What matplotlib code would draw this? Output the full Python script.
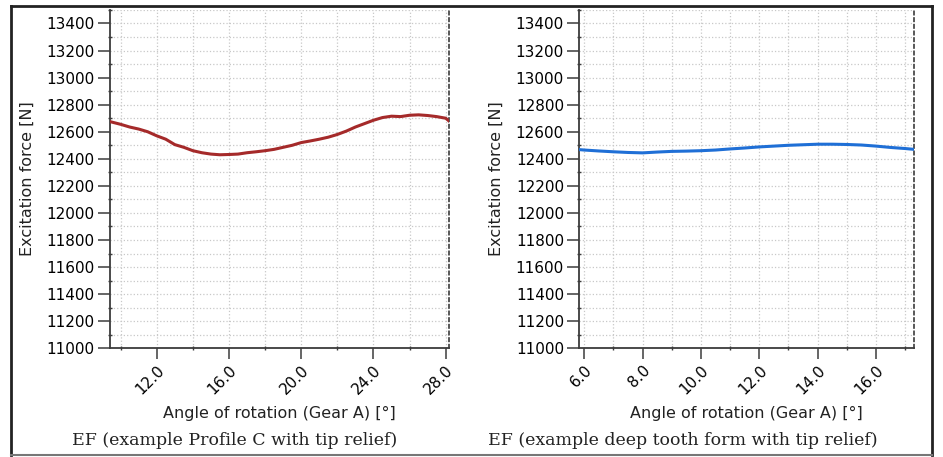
import numpy as np
import matplotlib
matplotlib.use('Agg')
import matplotlib.pyplot as plt
from matplotlib.ticker import MultipleLocator, FormatStrFormatter
from matplotlib.lines import Line2D

# left panel: profile C with tip relief
angle_a = [9.41, 10.0, 10.5, 11.0, 11.5, 12.0, 12.5, 13.0, 13.5, 14.0, 14.5, 15.0, 15.5,
           16.0, 16.5, 17.0, 17.5, 18.0, 18.5, 19.0, 19.5, 20.0, 20.5, 21.0, 21.5, 22.0,
           22.5, 23.0, 23.5, 24.0, 24.5, 25.0, 25.5, 26.0, 26.5, 27.0, 27.5, 28.0, 28.18]
force_a = [12675, 12655, 12635, 12620, 12600, 12570, 12545, 12505, 12485, 12460, 12445, 12435, 12430,
           12432, 12435, 12445, 12452, 12460, 12470, 12485, 12500, 12520, 12532, 12545, 12560, 12580,
           12605, 12635, 12660, 12685, 12705, 12715, 12712, 12722, 12725, 12720, 12712, 12700, 12680]

# right panel: deep tooth form with tip relief
angle_b = [5.83, 6.0, 6.5, 7.0, 7.5, 8.0, 8.5, 9.0, 9.5, 10.0, 10.5, 11.0, 11.5, 12.0,
           12.5, 13.0, 13.5, 14.0, 14.5, 15.0, 15.5, 16.0, 16.5, 17.0, 17.3]
force_b = [12468, 12465, 12458, 12452, 12447, 12444, 12450, 12455, 12457, 12460, 12465, 12473, 12480, 12488,
           12494, 12500, 12504, 12508, 12508, 12506, 12502, 12494, 12484, 12476, 12470]

captions = ['EF (example Profile C with tip relief)', 'EF (example deep tooth form with tip relief)']
x_label = 'Angle of rotation (Gear A) [°]'
y_label = 'Excitation force [N]'

SPINE = '#3c3c3c'
TEXT = '#222222'
W, H = 943.0, 457.0

fig = plt.figure(figsize=(9.43, 4.57), dpi=100)


def make_panel(rect, x, y, color, xlim, xmajor, xminor):
    ax = fig.add_axes(rect)
    ax.plot(x, y, color=color, lw=2.2, zorder=3)
    ax.set_xlim(*xlim)
    ax.set_ylim(11000, 13500)
    ax.set_yticks(list(range(11000, 13401, 200)))
    ax.yaxis.set_minor_locator(MultipleLocator(100))
    ax.xaxis.set_major_locator(MultipleLocator(xmajor))
    ax.xaxis.set_minor_locator(MultipleLocator(xminor))
    ax.xaxis.set_major_formatter(FormatStrFormatter('%.1f'))
    ax.grid(which='both', color='#c8c8c8', ls=':', lw=0.9)
    ax.spines['top'].set_visible(False)
    ax.spines['right'].set_color(SPINE)
    ax.spines['right'].set_linestyle((0, (2, 2)))
    ax.spines['right'].set_linewidth(1.2)
    for s in ('left', 'bottom'):
        ax.spines[s].set_color(SPINE)
        ax.spines[s].set_linewidth(1.3)
    ax.tick_params(which='major', axis='y', length=9, width=1.1, color=SPINE, labelsize=11, pad=2)
    ax.tick_params(which='major', axis='x', length=8, width=1.1, color=SPINE, labelsize=11, pad=2)
    ax.tick_params(which='minor', length=3, width=1.0, color=SPINE, direction='inout')
    for lab in ax.get_xticklabels():
        lab.set_rotation(45)
        lab.set_ha('right')
        lab.set_va('top')
        lab.set_rotation_mode('anchor')
    ax.set_xlabel(x_label, fontsize=11.5, color=TEXT)
    ax.xaxis.set_label_coords(0.5, (348.3 - 418) / 338.3)
    ax.xaxis.label.set_va('baseline')
    ax.set_ylabel(y_label, fontsize=11.5, color=TEXT)
    ax.yaxis.set_label_coords(-83 / (rect[2] * W), 0.5)
    ax.yaxis.label.set_va('center')
    return ax


ax1 = make_panel([0.1166, 0.2379, 0.3595, 0.7403], angle_a, force_a, '#a52a2a', (9.41, 28.18), 4, 2)
ax2 = make_panel([0.6143, 0.2379, 0.3549, 0.7403], angle_b, force_b, '#1f6fd6', (5.83, 17.3), 2, 1)

fig.text(234.5 / W, 1 - 445 / H, captions[0], ha='center', va='baseline',
         family='DejaVu Serif', fontsize=12.5, color=TEXT)
fig.text(682.5 / W, 1 - 445 / H, captions[1], ha='center', va='baseline',
         family='DejaVu Serif', fontsize=12.5, color=TEXT)

# outer frame
def fx(px): return px / W
def fy(py): return 1 - py / H
fig.add_artist(Line2D([fx(11), fx(932)], [fy(6), fy(6)], color=TEXT, lw=2.0))
fig.add_artist(Line2D([fx(11), fx(11)], [fy(6), fy(455)], color=TEXT, lw=2.0))
fig.add_artist(Line2D([fx(932), fx(932)], [fy(6), fy(455)], color=TEXT, lw=2.0))
fig.add_artist(Line2D([fx(11), fx(932)], [fy(455), fy(455)], color='#777777', lw=1.5))

fig.savefig('out.png', dpi=100)
